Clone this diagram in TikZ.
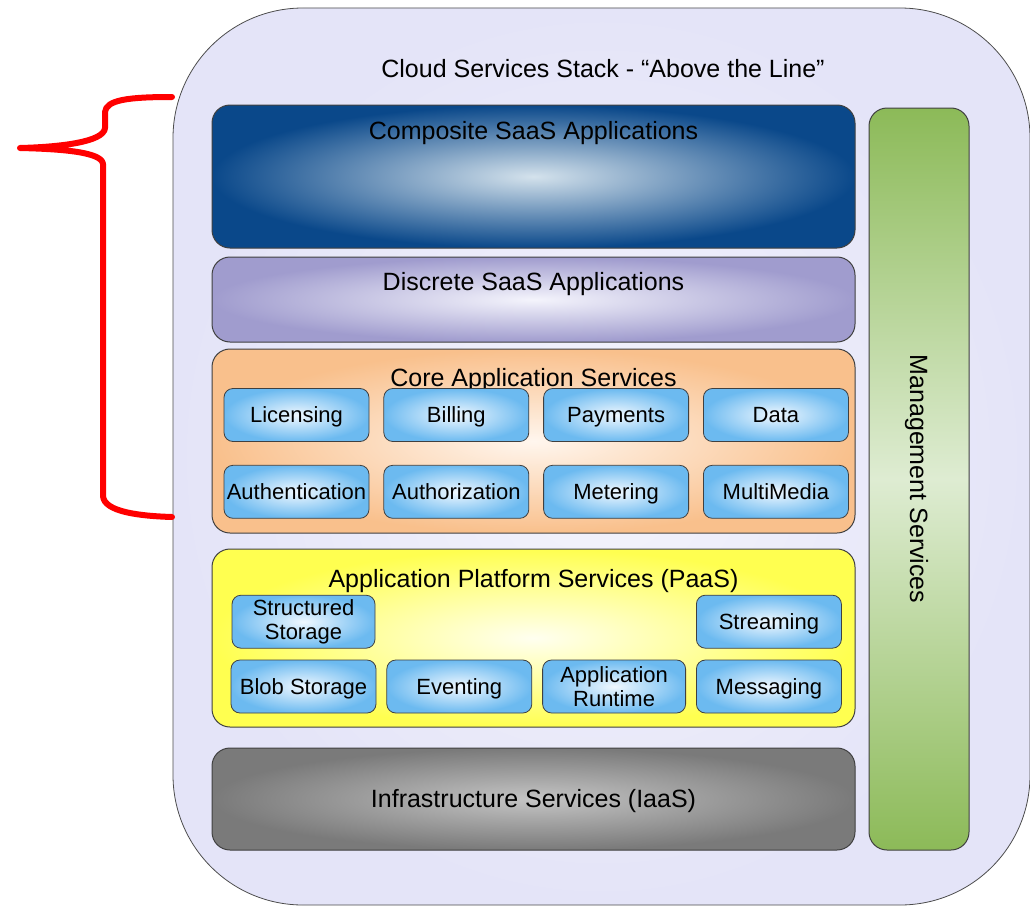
\documentclass[tikz,border=0pt]{standalone}
\usepackage{fontspec}
\setmainfont{Liberation Sans}
\usepackage{tikz}
\usetikzlibrary{calc,positioning}
\definecolor{stackout}{RGB}{228,228,248}
\definecolor{stackin}{RGB}{244,244,252}
\definecolor{compout}{RGB}{10,72,138}
\definecolor{compin}{RGB}{212,226,236}
\definecolor{discout}{RGB}{160,156,206}
\definecolor{discin}{RGB}{244,244,252}
\definecolor{coreout}{RGB}{249,192,140}
\definecolor{corein}{RGB}{255,246,238}
\definecolor{paasout}{RGB}{255,255,80}
\definecolor{paasin}{RGB}{255,255,240}
\definecolor{iaasout}{RGB}{122,122,122}
\definecolor{iaasin}{RGB}{196,196,196}
\definecolor{mgmtout}{RGB}{140,186,88}
\definecolor{mgmtin}{RGB}{222,236,210}
\definecolor{svcout}{RGB}{108,186,240}
\definecolor{svcin}{RGB}{240,248,255}
\tikzset{
  x=1pt,y=-1pt,
  font=\fontsize{25}{28}\selectfont,
  node distance=10pt,
  stackbox/.style={draw=black!70,line width=0.8pt,rounded corners=130pt,minimum width=857pt,minimum height=897pt,inner sep=0,shading=radial,inner color=stackin,outer color=stackout},
  layer/.style={draw=black!75,line width=1pt,rounded corners=18pt,minimum width=643pt,inner sep=0,shading=radial},
  svc/.style={draw=black!75,line width=0.8pt,rounded corners=9pt,minimum width=145pt,minimum height=53pt,inner sep=0,shading=radial,inner color=svcin,outer color=svcout,align=center,font=\fontsize{22}{24}\selectfont},
  onesvc/.style={svc,text height=17.75pt,text depth=2pt},
  psvc/.style={svc,minimum width=143pt},
  title/.style={inner sep=0,text height=20pt,text depth=2.1pt},
  brace/.style={draw=red,line width=6pt,line cap=round,line join=round}
}
\begin{document}
\begin{tikzpicture}
    \useasboundingbox (0,0) rectangle (1030,907);
    \node (stack) [stackbox] at (601.5,456.5) {};
    \node (stacktitle) [title] at (603,69) {Cloud Services Stack - “Above the Line”};

    \node (comp) [layer,minimum height=143pt,inner color=compin,outer color=compout] at (533.5,176.5) {};
    \node (disc) [layer,minimum height=85pt,inner color=discin,outer color=discout] at (533.5,299.5) {};
    \node (core) [layer,minimum height=184pt,inner color=corein,outer color=coreout] at (533.5,441) {};
    \node (paas) [layer,minimum height=178pt,inner color=paasin,outer color=paasout] at (533.5,638) {};
    \node (iaas) [layer,minimum height=102pt,inner color=iaasin,outer color=iaasout] at (533.5,799) {};
    \node (mgmt) [draw=black!75,line width=1pt,rounded corners=18pt,minimum width=100pt,minimum height=742pt,inner sep=0,top color=mgmtout,bottom color=mgmtout,middle color=mgmtin] at (919,479) {};
    \node [title,rotate=-90] at (mgmt.center) {Management Services};

    \node (comptitle) [title] at ($(comp.north)+(0,26)$) {Composite SaaS Applications};
    \node (disctitle) [title] at ($(disc.north)+(0,25)$) {Discrete SaaS Applications};
    \node (coretitle) [title] at ($(core.north)+(0,29)$) {Core Application Services};
    \node (paastitle) [title] at ($(paas.north)+(0,30)$) {Application Platform Services (PaaS)};
    \node (iaastitle) [title] at (iaas.center) {Infrastructure Services (IaaS)};

    \node (licensing) [onesvc] at (296.5,415) {Licensing};
    \node (billing) [onesvc,right=14pt of licensing] {Billing};
    \node (payments) [onesvc,right=14pt of billing] {Payments};
    \node (data) [onesvc,right=14pt of payments] {Data};
    \node (authn) [onesvc,below=23pt of licensing] {Authentication};
    \node (authz) [onesvc,right=14pt of authn] {Authorization};
    \node (metering) [onesvc,right=14pt of authz] {Metering};
    \node (multimedia) [onesvc,right=14pt of metering] {MultiMedia};

    \node (blob) [psvc,onesvc] at (303.5,686.5) {Blob Storage};
    \node (eventing) [psvc,onesvc,right=of blob] {Eventing};
    \node (runtime) [psvc,right=of eventing] {Application\\Runtime};
    \node (messaging) [psvc,onesvc,right=of runtime] {Messaging};
    \node (structured) [psvc,above=11pt of blob] {Structured\\Storage};
    \node (streaming) [psvc,onesvc,above=11pt of messaging] {Streaming};

    \path [brace] (172,97) .. controls (128,97) and (106,100) .. (105,112) -- (105,128)
      .. controls (104,142) and (60,147) .. (20,148)
      .. controls (62,149) and (102,152) .. (103,164) -- (103,496)
      .. controls (104,512) and (140,516) .. (172,517);
\end{tikzpicture}
\end{document}
